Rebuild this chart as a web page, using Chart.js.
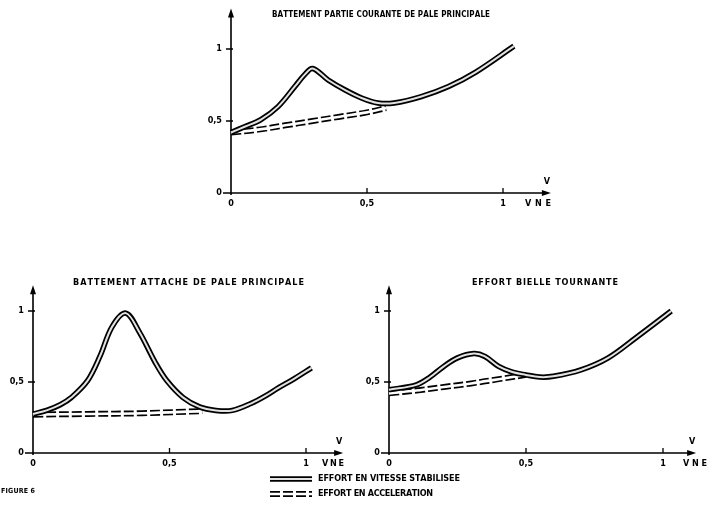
<!DOCTYPE html>
<html>
<head>
<meta charset="utf-8">
<script src="https://cdn.jsdelivr.net/npm/chart.js@4.4.1/dist/chart.umd.min.js"></script>
<style>
html, body { margin: 0; padding: 0; background: #fff; }
#wrap { position: relative; width: 712px; height: 513px; }
canvas { position: absolute; left: 0; top: 0; }
</style>
</head>
<body>
<div id="wrap">
  <canvas id="c1" width="712" height="513"></canvas>
  <canvas id="c2" width="712" height="513"></canvas>
  <canvas id="c3" width="712" height="513"></canvas>
</div>
<script>
'use strict';

/* ── DONNÉES (V/VNE en abscisse, effort relatif en ordonnée) ── */
var xTicks      = [0, 0.5, 1];
var yTicks      = [0, 0.5, 1];
var tickLabels  = ['0', '0,5', '1'];

/* battement partie courante */
var pcX     = [0, 0.05, 0.11, 0.173, 0.235, 0.27, 0.30, 0.357, 0.42, 0.48, 0.54, 0.6, 0.7, 0.8, 0.9, 1.04];
var pcStab  = [0.42, 0.46, 0.51, 0.60, 0.74, 0.82, 0.865, 0.785, 0.715, 0.66, 0.625, 0.625, 0.67, 0.74, 0.84, 1.02];
var pcAccX  = [0, 0.1, 0.2, 0.3, 0.4, 0.5, 0.57];
var pcAcc   = [0.42, 0.44, 0.47, 0.50, 0.53, 0.56, 0.59];

/* battement attache */
var atX     = [0, 0.05, 0.1, 0.14, 0.2, 0.245, 0.29, 0.34, 0.39, 0.45, 0.49, 0.55, 0.61, 0.67, 0.73, 0.8, 0.85, 0.9, 0.95, 1.02];
var atStab  = [0.275, 0.30, 0.34, 0.39, 0.51, 0.68, 0.89, 0.985, 0.85, 0.63, 0.51, 0.39, 0.325, 0.30, 0.30, 0.35, 0.40, 0.46, 0.515, 0.60];
var atAccX  = [0, 0.2, 0.4, 0.62];
var atAcc   = [0.27, 0.275, 0.28, 0.295];

/* effort bielle tournante */
var bfX     = [0, 0.1, 0.15, 0.2, 0.25, 0.31, 0.35, 0.4, 0.45, 0.5, 0.55, 0.6, 0.7, 0.8, 0.9, 1.03];
var bfStab  = [0.445, 0.48, 0.535, 0.61, 0.67, 0.70, 0.68, 0.61, 0.57, 0.55, 0.535, 0.54, 0.585, 0.67, 0.81, 1.0];
var bfAccX  = [0, 0.1, 0.2, 0.3, 0.4, 0.5];
var bfAcc   = [0.42, 0.44, 0.465, 0.49, 0.52, 0.55];

var FAM    = '"DejaVu Sans Condensed", "Liberation Sans", sans-serif';
var FONT_B = 'bold 9px ' + FAM;

function pts(xs, ys){
  return xs.map(function(x, i){ return { x: x, y: ys[i] }; });
}

/* texte étalé sur une largeur donnée */
function spaced(ctx, text, left, y, width){
  var chars = text.split('');
  var ws = chars.map(function(c){ return ctx.measureText(c).width; });
  var tot = ws.reduce(function(a, b){ return a + b; }, 0);
  var gap = chars.length > 1 ? (width - tot) / (chars.length - 1) : 0;
  var x = left;
  ctx.textAlign = 'left';
  chars.forEach(function(c, i){ ctx.fillText(c, x, y); x += ws[i] + gap; });
}

function stabLine(ctx, x1, x2, y){
  ctx.save();
  ctx.lineCap = 'butt';
  ctx.strokeStyle = '#000'; ctx.lineWidth = 5.5;
  ctx.beginPath(); ctx.moveTo(x1, y); ctx.lineTo(x2, y); ctx.stroke();
  ctx.strokeStyle = '#e2e2e2'; ctx.lineWidth = 2;
  ctx.beginPath(); ctx.moveTo(x1, y); ctx.lineTo(x2, y); ctx.stroke();
  ctx.restore();
}

function accLine(ctx, x1, x2, y){
  ctx.save();
  ctx.strokeStyle = '#000'; ctx.lineWidth = 6; ctx.setLineDash([10, 3]);
  ctx.beginPath(); ctx.moveTo(x1, y); ctx.lineTo(x2, y); ctx.stroke();
  ctx.setLineDash([]);
  ctx.strokeStyle = '#fff'; ctx.lineWidth = 2.6;
  ctx.beginPath(); ctx.moveTo(x1, y); ctx.lineTo(x2, y); ctx.stroke();
  ctx.restore();
}

/* ── AXES FLÉCHÉS, GRADUATIONS, TITRES ── */
var axesPlugin = {
  id: 'axes',
  beforeDatasetsDraw: function(chart, args, o){
    var ctx = chart.ctx, sx = chart.scales.x, sy = chart.scales.y;
    var x0 = sx.getPixelForValue(0), y0 = sy.getPixelForValue(0);
    var xe = sx.getPixelForValue(o.xEnd), ye = sy.getPixelForValue(o.yEnd);
    ctx.save();
    ctx.strokeStyle = '#000'; ctx.fillStyle = '#000'; ctx.lineWidth = 1.6;
    ctx.beginPath();
    ctx.moveTo(x0, y0 + 2); ctx.lineTo(x0, ye + 4);
    ctx.moveTo(x0 - 8, y0); ctx.lineTo(xe - 4, y0);
    ctx.stroke();
    ctx.beginPath();
    ctx.moveTo(x0, ye - 3); ctx.lineTo(x0 - 3, ye + 6); ctx.lineTo(x0 + 3, ye + 6); ctx.closePath();
    ctx.moveTo(xe + 3, y0); ctx.lineTo(xe - 6, y0 - 3); ctx.lineTo(xe - 6, y0 + 3); ctx.closePath();
    ctx.fill();

    ctx.lineWidth = 1.3;
    ctx.beginPath();
    yTicks.forEach(function(v){
      if(v === 0) return;
      var py = sy.getPixelForValue(v);
      ctx.moveTo(x0 - 5, py); ctx.lineTo(x0 + 2, py);
    });
    xTicks.forEach(function(v){
      if(v === 0) return;
      var px = sx.getPixelForValue(v);
      ctx.moveTo(px, y0 - 5); ctx.lineTo(px, y0);
    });
    ctx.stroke();

    ctx.font = FONT_B;
    ctx.textBaseline = 'middle';
    ctx.textAlign = 'right';
    yTicks.forEach(function(v, i){
      ctx.fillText(tickLabels[i], x0 - 9, sy.getPixelForValue(v));
    });
    ctx.textAlign = 'center';
    xTicks.forEach(function(v, i){
      ctx.fillText(tickLabels[i], sx.getPixelForValue(v), y0 + 11);
    });
    ctx.fillText('V', xe - 1, y0 - 11);
    spaced(ctx, 'VNE', sx.getPixelForValue(1) + o.vneDx, y0 + 11, o.vneW);

    ctx.font = 'bold ' + o.tSize + 'px ' + FAM;
    spaced(ctx, o.title, o.tLeft, o.tY, o.tW);

    if(o.legend){
      ctx.font = FONT_B;
      stabLine(ctx, 270, 312, 479);
      accLine(ctx, 270, 312, 494);
      spaced(ctx, 'EFFORT EN VITESSE STABILISEE', 318, 479, 142);
      spaced(ctx, 'EFFORT EN ACCELERATION', 318, 494, 115);
      ctx.font = 'bold 7px ' + FAM;
      spaced(ctx, 'FIGURE 6', 1, 491, 34);
    }
    ctx.restore();
  }
};

function makeChart(id, pad, stab, acc, opts){
  var common = { pointRadius: 0, fill: false, clip: false, tension: 0.35 };
  function ds(data, extra){ return Object.assign({ data: data }, common, extra); }
  return new Chart(document.getElementById(id), {
    type: 'line',
    data: {
      datasets: [
        ds(stab, { borderColor: '#e2e2e2', borderWidth: 2, order: 0 }),
        ds(stab, { borderColor: '#000', borderWidth: 5.5, order: 1 }),
        ds(acc,  { borderColor: '#fff', borderWidth: 2.6, order: 2 }),
        ds(acc,  { borderColor: '#000', borderWidth: 6, borderDash: [10, 3], order: 3 })
      ]
    },
    options: {
      responsive: false,
      animation: false,
      events: [],
      layout: { padding: pad },
      scales: {
        x: { type: 'linear', min: 0, max: 1, display: false },
        y: { type: 'linear', min: 0, max: 1, display: false }
      },
      plugins: { legend: { display: false }, tooltip: { enabled: false }, axes: opts }
    },
    plugins: [axesPlugin]
  });
}

makeChart('c1', { left: 231, right: 209, top: 49, bottom: 320 },
  pts(pcX, pcStab), pts(pcAccX, pcAcc),
  { xEnd: 1.165, yEnd: 1.26, vneDx: 22, vneW: 26, tSize: 8,
    title: 'BATTEMENT PARTIE COURANTE DE PALE PRINCIPALE', tLeft: 272, tY: 15, tW: 218 });

makeChart('c2', { left: 33, right: 406, top: 311, bottom: 60 },
  pts(atX, atStab), pts(atAccX, atAcc),
  { xEnd: 1.125, yEnd: 1.16, vneDx: 16, vneW: 22, tSize: 9,
    title: 'BATTEMENT ATTACHE DE PALE PRINCIPALE', tLeft: 73, tY: 283, tW: 231 });

makeChart('c3', { left: 389, right: 49, top: 311, bottom: 60 },
  pts(bfX, bfStab), pts(bfAccX, bfAcc),
  { xEnd: 1.11, yEnd: 1.16, vneDx: 20, vneW: 24, tSize: 9, legend: true,
    title: 'EFFORT BIELLE TOURNANTE', tLeft: 472, tY: 283, tW: 146 });
</script>
</body>
</html>
